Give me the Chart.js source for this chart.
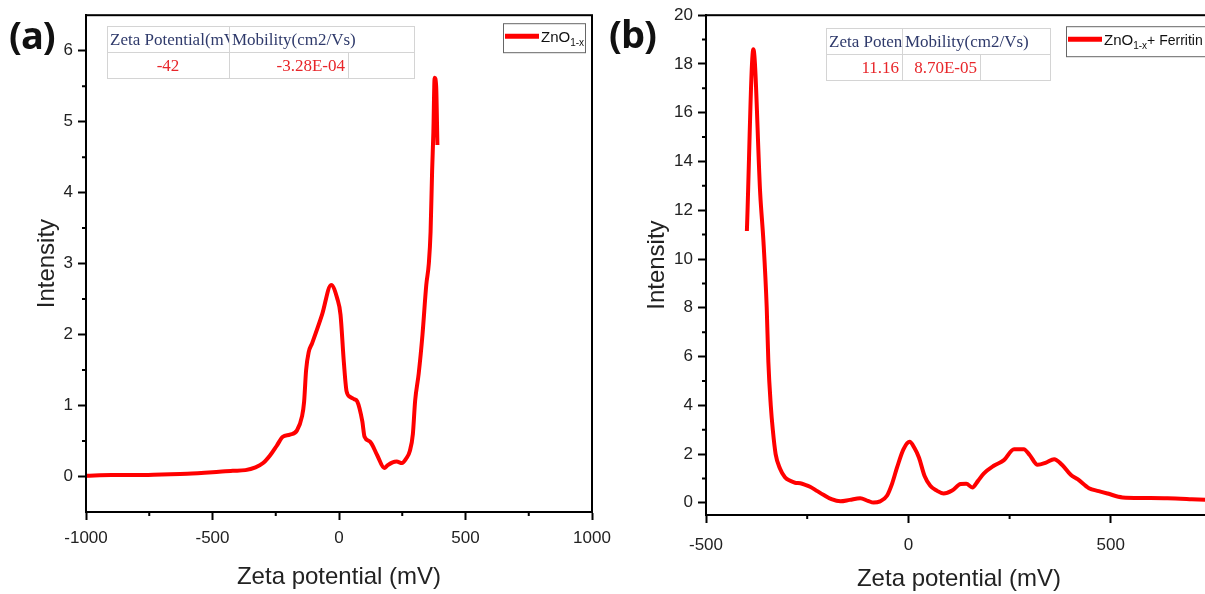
<!DOCTYPE html>
<html lang="en">
<head>
<meta charset="UTF-8">
<script src="https://cdn.jsdelivr.net/npm/chart.js"></script>
<style>
    body {
        margin: 0;
        width: 1205px;
        height: 594px;
        overflow: hidden;
        background: #fff;
        font-family: 'Liberation Sans', Arial, sans-serif;
        position: relative;
    }
    .panel {
        position: absolute;
        top: 0;
        width: 620px;
        height: 594px;
    }
    .tag {
        position: absolute;
        font-family: 'Open Sans', sans-serif;
        font-weight: 700;
        font-size: 38px;
        letter-spacing: -1px;
        color: #111;
    }
    table.info {
        position: absolute;
        border-collapse: collapse;
        font-family: 'Liberation Serif', 'Times New Roman', serif;
        font-size: 17px;
        table-layout: fixed;
    }
    table.info td {
        border: 1px solid #d4d4d4;
        padding: 0 3px 0 2px;
        white-space: nowrap;
        overflow: hidden;
        height: 25px;
        line-height: 25px;
    }
    table.info tr.head td { color: #2f3a6b; }
    table.info tr.val td { color: #e8262a; text-align: right; }
</style>
</head>
<body>
<div class="panel" style="left:0"><canvas id="chartA"></canvas></div>
<div class="panel" style="left:620px"><canvas id="chartB"></canvas></div>

<div class="tag" style="left:9px;top:8px">(a)</div>
<div class="tag" style="left:609px;top:7px">(b)</div>

<table class="info" style="left:107px;top:26px;width:307px">
    <colgroup><col style="width:122px"><col style="width:119px"><col style="width:66px"></colgroup>
    <tr class="head"><td>Zeta Potential(mV)</td><td colspan="2">Mobility(cm2/Vs)</td></tr>
    <tr class="val"><td style="text-align:center">-42</td><td>-3.28E-04</td><td></td></tr>
</table>
<table class="info" style="left:826px;top:28px;width:224px">
    <colgroup><col style="width:76px"><col style="width:78px"><col style="width:70px"></colgroup>
    <tr class="head"><td>Zeta Potential(mV)</td><td colspan="2">Mobility(cm2/Vs)</td></tr>
    <tr class="val"><td>11.16</td><td>8.70E-05</td><td></td></tr>
</table>

<script>
// (a) ZnO1-x
const zetaA = [-1000, -900, -800, -700, -600, -500, -420, -370, -330, -300,
    -272, -245, -222, -194, -166, -146, -138, -130, -120, -106, -67,
    -31, -7, 6, 19, 30, 45, 60, 72, 92, 101,
    123, 151, 179, 193, 212, 228, 249, 265, 280, 292,
    301, 315, 330, 345, 355, 362, 368, 373, 378, 384, 389];
const intensityA = [0.01, 0.02, 0.02, 0.03, 0.04, 0.06, 0.08, 0.09, 0.13, 0.19,
    0.30, 0.44, 0.56, 0.59, 0.65, 0.85, 1.05, 1.50, 1.75, 1.88, 2.28,
    2.70, 2.51, 2.28, 1.62, 1.20, 1.12, 1.09, 1.06, 0.78, 0.56,
    0.49, 0.30, 0.12, 0.16, 0.20, 0.21, 0.19, 0.25, 0.36, 0.60,
    1.07, 1.45, 2.00, 2.70, 3.00, 3.45, 4.30, 4.85, 5.62, 5.50, 4.67];

// (b) ZnO1-x + Ferritin
const zetaB = [-399, -383, -366, -358, -350, -346, -340, -335, -328, -317,
    -305, -292, -280, -267, -255, -243, -225, -210, -190, -168,
    -145, -119, -100, -86, -70, -53, -40, -28, -12, 3,
    15, 26, 40, 54, 70, 87, 108, 129, 143, 158,
    172, 186, 211, 236, 261, 285, 300, 319, 340, 360,
    380, 401, 418, 446, 470, 492, 529, 580, 640, 700, 750];
const intensityB = [11.15, 18.6, 12.65, 10.7, 8.0, 5.8, 4.0, 3.0, 2.0, 1.4,
    1.05, 0.9, 0.82, 0.8, 0.74, 0.66, 0.48, 0.33, 0.15, 0.06,
    0.12, 0.19, 0.08, 0.01, 0.06, 0.29, 0.8, 1.45, 2.2, 2.5,
    2.25, 1.86, 1.1, 0.70, 0.5, 0.38, 0.5, 0.77, 0.78, 0.63,
    0.9, 1.2, 1.52, 1.75, 2.2, 2.2, 1.95, 1.56, 1.65, 1.79,
    1.55, 1.15, 0.97, 0.60, 0.48, 0.38, 0.22, 0.2, 0.19, 0.15, 0.11];

// tick values
const xTicksA = [-1000, -500, 0, 500, 1000];
const xMinorA = [-750, -250, 250, 750];
const yTicksA = [0, 1, 2, 3, 4, 5, 6];
const yMinorA = [0.5, 1.5, 2.5, 3.5, 4.5, 5.5];
const xTicksB = [-500, 0, 500];
const xMinorB = [-250, 250, 750];
const yTicksB = [0, 2, 4, 6, 8, 10, 12, 14, 16, 18, 20];
const yMinorB = [1, 3, 5, 7, 9, 11, 13, 15, 17, 19];

const RED = '#ff0000';

// frame around the plot, short minor ticks, boxed legend with subscript
const decorPlugin = {
    id: 'decor',
    afterDraw(chart, args, opts) {
        const {ctx, chartArea: a} = chart;
        const xs = chart.scales.x, ys = chart.scales.y;
        ctx.save();
        ctx.strokeStyle = '#000';
        ctx.lineWidth = 2;
        ctx.strokeRect(a.left, a.top, a.right - a.left, a.bottom - a.top);
        ctx.beginPath();
        opts.xMinor.forEach(v => {
            const px = xs.getPixelForValue(v);
            ctx.moveTo(px, a.bottom);
            ctx.lineTo(px, a.bottom + 4);
        });
        opts.yMinor.forEach(v => {
            const py = ys.getPixelForValue(v);
            ctx.moveTo(a.left, py);
            ctx.lineTo(a.left - 4, py);
        });
        ctx.stroke();

        // legend
        const lx = a.left + opts.dx, ly = a.top + opts.dy;
        ctx.fillStyle = '#fff';
        ctx.fillRect(lx, ly, opts.w, opts.h);
        ctx.strokeStyle = '#666';
        ctx.lineWidth = 1;
        ctx.strokeRect(lx + 0.5, ly + 0.5, opts.w, opts.h);
        ctx.strokeStyle = RED;
        ctx.lineWidth = 5;
        ctx.beginPath();
        ctx.moveTo(lx + 2, ly + 13);
        ctx.lineTo(lx + 36, ly + 13);
        ctx.stroke();
        ctx.fillStyle = '#111';
        ctx.textBaseline = 'alphabetic';
        let tx = lx + 38;
        const base = ly + 19;
        ctx.font = '15px "Liberation Sans", Arial';
        ctx.fillText('ZnO', tx, base);
        tx += ctx.measureText('ZnO').width;
        ctx.font = '10px "Liberation Sans", Arial';
        ctx.fillText('1-x', tx, base + 4);
        tx += ctx.measureText('1-x').width;
        if (opts.extra) {
            ctx.font = '14px "Liberation Sans", Arial';
            ctx.fillText(opts.extra, tx, base);
        }
        ctx.restore();
    }
};

function makeChart(id, xs, ys, cfg) {
    const points = xs.map((x, i) => ({x: x, y: ys[i]}));
    return new Chart(document.getElementById(id), {
        type: 'line',
        data: {
            datasets: [{
                data: points,
                borderColor: RED,
                borderWidth: 4,
                pointRadius: 0,
                fill: false,
                cubicInterpolationMode: 'monotone'
            }]
        },
        plugins: [decorPlugin],
        options: {
            responsive: true,
            maintainAspectRatio: false,
            animation: false,
            layout: {padding: {left: 0, right: 28, top: 14, bottom: 0}},
            plugins: {
                legend: {display: false},
                tooltip: {enabled: false},
                decor: cfg.decor
            },
            scales: {
                x: {
                    type: 'linear',
                    min: cfg.xMin,
                    max: cfg.xMax,
                    afterBuildTicks: s => { s.ticks = cfg.xTicks.map(v => ({value: v})); },
                    afterFit: s => { s.height = cfg.xHeight; },
                    ticks: {
                        color: '#222',
                        font: {family: '"Liberation Sans", Arial', size: 17},
                        padding: cfg.xPad,
                        maxRotation: 0,
                        autoSkip: false,
                        callback: v => String(v)
                    },
                    grid: {drawOnChartArea: false, drawTicks: true, tickLength: 8, tickColor: '#000', tickWidth: 2},
                    border: {display: true, color: '#000', width: 2},
                    title: {
                        display: true,
                        text: 'Zeta potential (mV)',
                        color: '#222',
                        font: {family: '"Liberation Sans", Arial', size: 24},
                        padding: {top: 0, bottom: cfg.xTitlePad}
                    }
                },
                y: {
                    type: 'linear',
                    min: cfg.yMin,
                    max: cfg.yMax,
                    afterBuildTicks: s => { s.ticks = cfg.yTicks.map(v => ({value: v})); },
                    afterFit: s => { s.width = 86; },
                    ticks: {
                        color: '#222',
                        font: {family: '"Liberation Sans", Arial', size: 17},
                        padding: 5,
                        callback: v => String(v)
                    },
                    grid: {drawOnChartArea: false, drawTicks: true, tickLength: 8, tickColor: '#000', tickWidth: 2},
                    border: {display: true, color: '#000', width: 2},
                    title: {
                        display: true,
                        text: 'Intensity',
                        color: '#222',
                        font: {family: '"Liberation Sans", Arial', size: 24},
                        padding: {top: cfg.yTitlePad, bottom: 0}
                    }
                }
            }
        }
    });
}

makeChart('chartA', zetaA, intensityA, {
    xMin: -1000, xMax: 1000, yMin: -0.5, yMax: 6.5,
    xTicks: xTicksA, yTicks: yTicksA,
    xHeight: 82, xPad: 8, xTitlePad: 2, yTitlePad: 33,
    decor: {xMinor: xMinorA, yMinor: yMinorA, dx: 417, dy: 8, w: 82, h: 29}
});

makeChart('chartB', zetaB, intensityB, {
    xMin: -500, xMax: 750, yMin: -0.5, yMax: 20,
    xTicks: xTicksB, yTicks: yTicksB,
    xHeight: 79, xPad: 12, xTitlePad: 0, yTitlePad: 23,
    decor: {xMinor: xMinorB, yMinor: yMinorB, dx: 360, dy: 11, w: 170, h: 30, extra: '+ Ferritin'}
});
</script>
</body>
</html>
